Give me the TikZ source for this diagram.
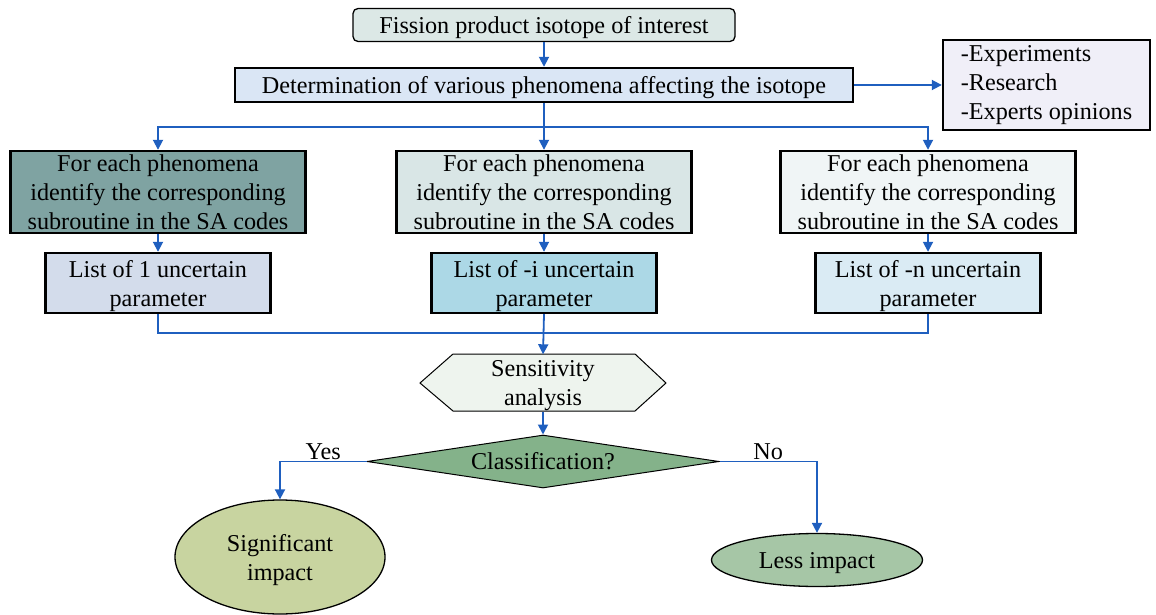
\documentclass[tikz,border=0pt]{standalone}
\usepackage{fontspec}
\setmainfont{Liberation Serif}
\usetikzlibrary{shapes.geometric,arrows.meta}
\definecolor{lnblue}{HTML}{1F5FBF}
\definecolor{cTop}{HTML}{DCE8E6}
\definecolor{cDet}{HTML}{DAE6F5}
\definecolor{cExp}{HTML}{F0EFF8}
\definecolor{cL}{HTML}{7FA3A2}
\definecolor{cM}{HTML}{D9E6E6}
\definecolor{cR}{HTML}{F0F5F6}
\definecolor{cLL}{HTML}{D3DCEB}
\definecolor{cLM}{HTML}{ACD8E6}
\definecolor{cLR}{HTML}{DAEBF4}
\definecolor{cHex}{HTML}{EEF4EE}
\definecolor{cDia}{HTML}{84B28A}
\definecolor{cSig}{HTML}{C8D4A0}
\definecolor{cLess}{HTML}{A6C6A6}
\tikzset{
  txt/.style={font=\fontsize{24.2}{29}\selectfont, align=center, inner sep=0pt},
  oneline/.style={text height=17pt, text depth=0pt},
  twoline/.style={text depth=0pt},
  boxthick/.style={txt, draw=black, line width=2.4pt, minimum height=#1},
  conn/.style={draw=lnblue, line width=1.8pt},
  arr/.style={conn, -{Triangle[width=10pt,length=10pt]}},
}
\begin{document}
\begin{tikzpicture}[x=1pt,y=-1pt]
\useasboundingbox (0,0) rectangle (1156,615);
% top
\node[txt, oneline, draw=black, line width=1.3pt, rounded corners=5pt, fill=cTop, minimum width=382pt, minimum height=33pt] (top) at (544,25) {Fission product isotope of interest};
\node[boxthick=34pt, oneline, fill=cDet, minimum width=618pt] (det) at (544,85) {Determination of various phenomena affecting the isotope};
\node[boxthick=90pt, fill=cExp, minimum width=207pt, align=left] (exp) at (1046.5,85) {-Experiments\\-Research\\-Experts opinions};
% phenomena boxes
\node[boxthick=82pt, twoline, fill=cL, minimum width=295pt] (pL) at (158,192) {For each phenomena\\identify the corresponding\\subroutine in the SA codes};
\node[boxthick=82pt, twoline, fill=cM, minimum width=295pt] (pM) at (544,192) {For each phenomena\\identify the corresponding\\subroutine in the SA codes};
\node[boxthick=82pt, twoline, fill=cR, minimum width=295pt] (pR) at (928,192) {For each phenomena\\identify the corresponding\\subroutine in the SA codes};
% list boxes
\node[boxthick=60pt, twoline, fill=cLL, minimum width=225pt] (lL) at (158,283) {List of 1 uncertain\\parameter};
\node[boxthick=60pt, twoline, fill=cLM, minimum width=225pt] (lM) at (544,283) {List of -i uncertain\\parameter};
\node[boxthick=60pt, twoline, fill=cLR, minimum width=225pt] (lR) at (928,283) {List of -n uncertain\\parameter};
% hexagon
\draw[draw=black, line width=1pt, fill=cHex] (420,383) -- (453,354) -- (635,354) -- (666,383) -- (635,411) -- (453,411) -- cycle;
\node[txt, twoline, minimum width=246pt, minimum height=57pt] (sens) at (543,383) {Sensitivity\\analysis};
% diamond
\node[txt, draw=black, line width=1pt, fill=cDia, diamond, aspect=6.5, minimum width=352pt, minimum height=53pt, inner sep=0pt] (cls) at (543,461.5) {Classification?};
% ellipses
\node[txt, twoline, draw=black, line width=1.3pt, fill=cSig, ellipse, minimum width=210pt, minimum height=114pt] (sig) at (280,557) {Significant\\impact};
\node[txt, oneline, draw=black, line width=1.3pt, fill=cLess, ellipse, minimum width=211pt, minimum height=53pt] (less) at (817,560) {Less impact};
% connectors
\draw[arr] (top) -- (det);
\draw[arr] (det.east) -- (exp.west);
\coordinate (jt) at (544,127);
\draw[conn] (det.south) -- (jt);
\draw[arr] (jt) -| (pL.north);
\draw[arr] (jt) -- (pM.north);
\draw[arr] (jt) -| (pR.north);
\draw[arr] (pL) -- (lL);
\draw[arr] (pM) -- (lM);
\draw[arr] (pR) -- (lR);
\coordinate (jb) at (544,333);
\draw[conn] (lL.south) |- (jb);
\draw[conn] (lR.south) |- (jb);
\draw[arr] (lM.south) -- (sens.north);
\draw[arr] (sens.south) -- (cls.north);
\draw[arr] (cls.west) -| node[pos=0.25, above, txt, yshift=1pt] (yes) {Yes} (sig.north);
\draw[arr] (cls.east) -| node[pos=0.25, above, txt, yshift=1pt] (no) {No} (less.north);
\end{tikzpicture}
\end{document}
